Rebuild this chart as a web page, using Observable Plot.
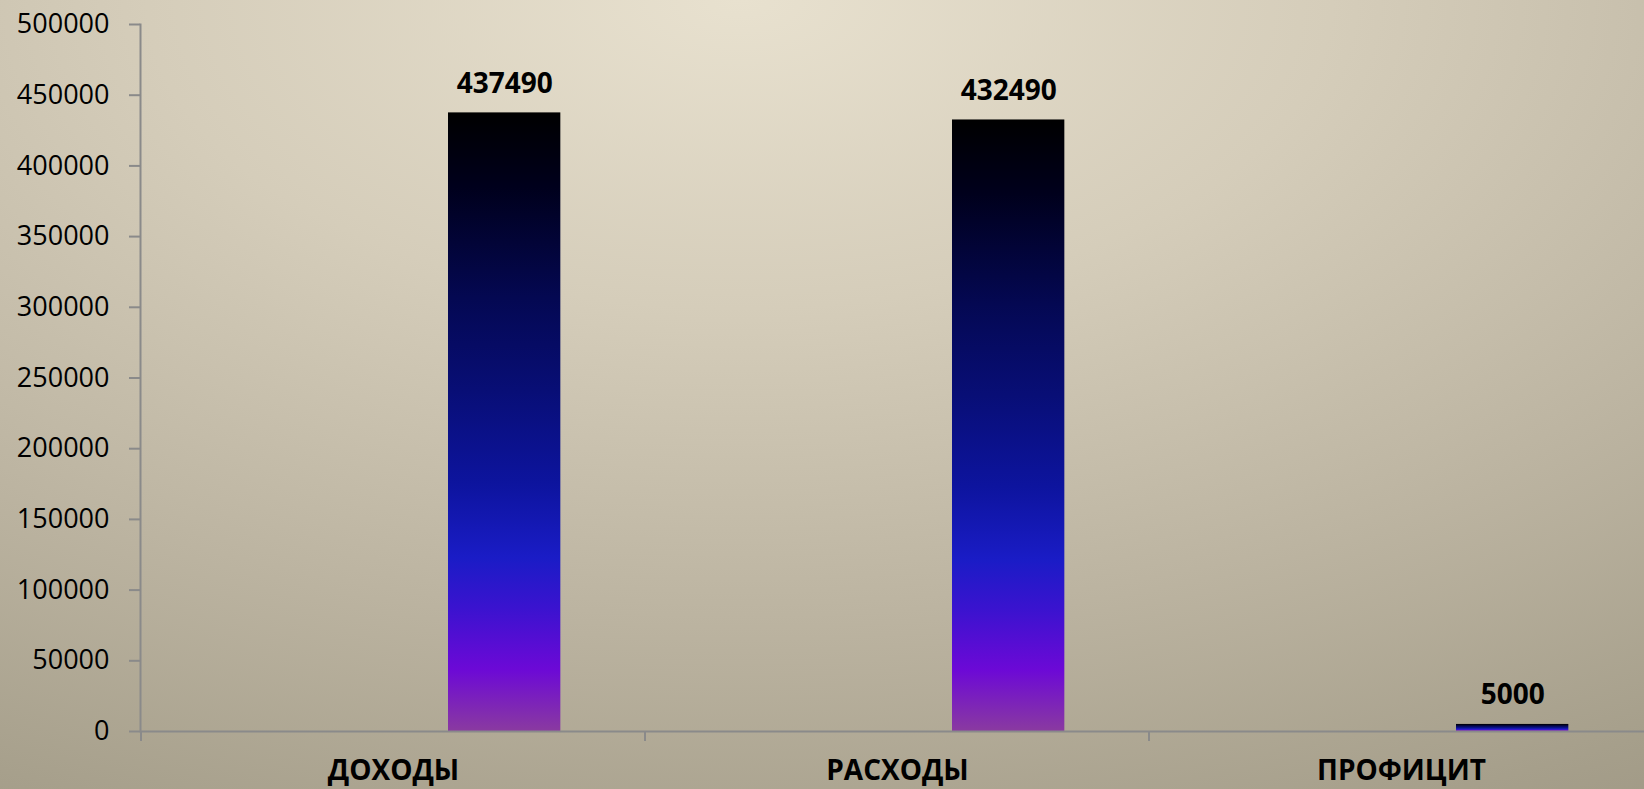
<!DOCTYPE html>
<html>
<head>
<meta charset="utf-8">
<script src="https://cdn.jsdelivr.net/npm/d3@7"></script>
<script src="https://cdn.jsdelivr.net/npm/@observablehq/plot@0.6"></script>
<style>
  html, body { margin: 0; padding: 0; overflow: hidden; width: 1644px; height: 789px; }
  body {
    background: radial-gradient(ellipse 120% 130% at 45% 0%, #e8e1cf 0%, #d5cdba 30%, #bcb4a1 60%, #a69f8b 85%, #9a9380 100%);
  }
  #chart { width: 1644px; height: 789px; overflow: hidden; }
  #chart svg { display: block; overflow: hidden; }
</style>
</head>
<body>
<div id="chart"></div>
<script>
const categories = ["ДОХОДЫ", "РАСХОДЫ", "ПРОФИЦИТ"];
const values = [437490, 432490, 5000];
const yTicks = [0, 50000, 100000, 150000, 200000, 250000, 300000, 350000, 400000, 450000, 500000];

const data = categories.map((c, i) => ({category: c, value: values[i]}));

const W = 1644, H = 789;
const mRight = -10;
const bandW = (W - mRight - 140) / 3;
const insetL = 307;
const insetR = bandW - 420;
const barCenterOffset = insetL + (bandW - insetL - insetR) / 2 - bandW / 2;

// boundary ticks drawn from the x scale
const boundaryTicks = (index, scales) => {
  const g = d3.create("svg:g");
  const xs = scales.x;
  const y0 = scales.y(0);
  const pos = categories.map(c => xs(c));
  pos.push(xs(categories[categories.length - 1]) + xs.bandwidth());
  for (const p of pos) {
    g.append("line")
      .attr("x1", p).attr("x2", p)
      .attr("y1", y0).attr("y2", y0 + 10)
      .attr("stroke", "#8a8a8a").attr("stroke-width", 2);
  }
  return g.node();
};

const plot = Plot.plot({
  width: W,
  height: H,
  marginLeft: 140,
  marginRight: mRight,
  marginTop: 24,
  marginBottom: 58,
  style: {background: "transparent", fontFamily: "'Open Sans', sans-serif", overflow: "hidden"},
  x: {domain: categories, padding: 0},
  y: {domain: [0, 500000]},
  marks: [
    Plot.barY(data, {
      x: "category", y: "value",
      fill: "url(#barGrad)",
      insetLeft: insetL, insetRight: insetR
    }),
    Plot.ruleY([0], {stroke: "#8a8a8a", strokeWidth: 2}),
    Plot.frame({anchor: "left", stroke: "#8a8a8a", strokeWidth: 2}),
    boundaryTicks,
    Plot.axisY({
      ticks: yTicks,
      tickFormat: d => String(d),
      tickSize: 11,
      tickPadding: 20,
      stroke: "#8a8a8a",
      strokeWidth: 2,
      fontSize: 27,
      fill: "#000",
      label: null
    }),
    Plot.axisX({
      tickSize: 0,
      tickPadding: 29,
      fontSize: 28,
      fontWeight: "bold",
      fill: "#000",
      label: null
    }),
    Plot.text(data, {
      x: "category", y: "value",
      text: d => String(d.value),
      dx: barCenterOffset,
      dy: -20,
      lineAnchor: "bottom",
      fontSize: 28,
      fontWeight: "bold",
      fill: "#000"
    })
  ]
});

const svg = d3.select(plot);
const defs = svg.insert("defs", ":first-child");
const grad = defs.append("linearGradient")
  .attr("id", "barGrad")
  .attr("x1", 0).attr("y1", 0).attr("x2", 0).attr("y2", 1);
[
  [0, "#000000"],
  [0.12, "#00001c"],
  [0.3, "#040852"],
  [0.45, "#080e76"],
  [0.6, "#0d149e"],
  [0.72, "#1a1cc6"],
  [0.8, "#3a13cf"],
  [0.9, "#6c09d6"],
  [1.0, "#8a3aa0"]
].forEach(([o, c]) => grad.append("stop").attr("offset", o).attr("stop-color", c));

document.getElementById("chart").appendChild(plot);
</script>
</body>
</html>
